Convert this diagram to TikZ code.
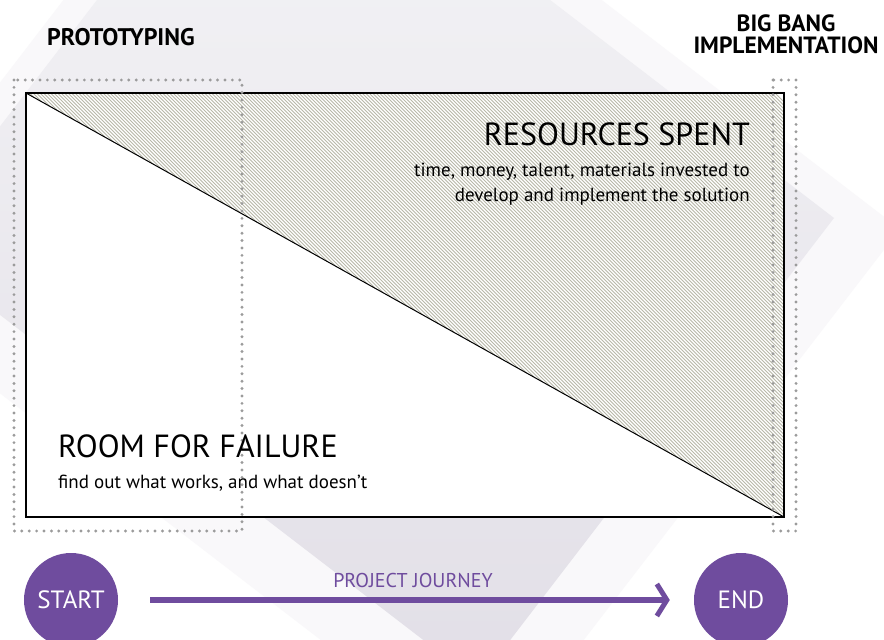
\documentclass[tikz,border=0pt]{standalone}
\usepackage{fontspec}
\setmainfont{PT Sans}
\usetikzlibrary{arrows.meta}
\definecolor{ecpurple}{RGB}{111,76,158}
\definecolor{hatchc}{RGB}{184,184,168}
\definecolor{dotc}{RGB}{155,155,155}
\definecolor{bgAtop}{RGB}{245,245,247}
\definecolor{bgAbot}{RGB}{226,223,231}
\definecolor{bgB}{RGB}{249,248,250}
\newcommand{\fsz}[1]{\fontsize{#1bp}{#1bp}\selectfont}
\begin{document}
\begin{tikzpicture}[x=1bp,y=-1bp,
  hatchline/.style={draw=hatchc,line width=0.75bp},
  diagline/.style={draw=black,line width=1bp},
  framebox/.style={draw=black,line width=1.8bp},
  dotline/.style={draw=dotc,line width=3.2bp,line cap=round,dash pattern=on 0bp off 7.4bp},
  lbl/.style={inner sep=0pt,text=black},
  title/.style={lbl,font=\fsz{32}},
  sub/.style={lbl,font=\fsz{19}},
  phase/.style={lbl,font=\fsz{24}\bfseries},
  endpoint/.style={circle,fill=ecpurple,minimum size=94bp,inner sep=0pt,text=white,font=\fsz{25}},
  journey/.style={draw=ecpurple,line width=6bp,shorten <=32bp,shorten >=24bp,-{Straight Barb[length=10bp,width=32bp,line width=5bp]}}
]
\useasboundingbox (0,0) rectangle (884,640);
\clip (0,0) rectangle (884,640);
\fill[white] (0,0) rectangle (884,640);
% background squares
\fill[bgB] (263,-260) -- (900,229) -- (486,767) -- (-150,278) -- cycle;
\shade[top color=bgAtop,bottom color=bgAbot] (265,-219) -- (834,218) -- (478,682) -- (-91,245) -- cycle;
% frame
\coordinate (tl) at (26,93);
\coordinate (tr) at (784,93);
\coordinate (bl) at (26,517);
\coordinate (br) at (784,517);
\fill[white] (tl) rectangle (br);
\begin{scope}
  \clip (tl) -- (tr) -- (br) -- cycle;
  \foreach \k in {0,...,350} {
    \draw[hatchline] ({-450+3.5*\k},93) -- ++(440,440);
  }
\end{scope}
\draw[diagline] (tl) -- (br);
\draw[framebox] (tl) rectangle (br);
% dotted phase boxes
\draw[dotline] (14,80) rectangle (242,531);
\draw[dotline] (773,80) rectangle (796,531);
% texts
\node[phase,anchor=base west] (proto) at (47,46) {PROTOTYPING};
\node[phase,font=\fsz{23.5}\bfseries,anchor=base] (bb1) at (786,32) {BIG BANG};
\node[phase,font=\fsz{23.5}\bfseries,anchor=base] (bb2) at (786,54) {IMPLEMENTATION};
\node[title,anchor=base east] (res) at (750,146) {RESOURCES SPENT};
\node[sub,anchor=base east] (res1) at (750,177) {time, money, talent, materials invested to};
\node[sub,anchor=base east] (res2) at (750,202) {develop and implement the solution};
\node[title,anchor=base west] (room) at (58,457) {ROOM FOR FAILURE};
\node[sub,anchor=base west] (room1) at (58,488) {find out what works, and what doesn’t};
% journey
\node[endpoint] (start) at (71,600) {START};
\node[endpoint] (end) at (741,600) {END};
\draw[journey] (start) -- (end);
\node[lbl,text=ecpurple,font=\fsz{20},anchor=base] (pj) at (413,587) {PROJECT JOURNEY};
\end{tikzpicture}
\end{document}
